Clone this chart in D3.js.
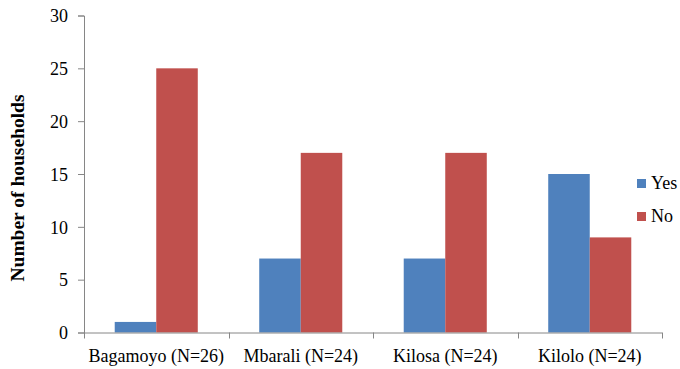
<!DOCTYPE html>
<html>
<head>
<meta charset="utf-8">
<script src="https://cdn.jsdelivr.net/npm/d3@7"></script>
<style>
  html, body { margin: 0; padding: 0; background: #fff; }
  svg { display: block; }
  svg text { font-family: "Times New Roman", Times, Tinos, "Liberation Serif", "Noto Serif", "DejaVu Serif", serif !important; }
</style>
</head>
<body>
<svg id="chart" width="680" height="369"></svg>
<script>
// Households answering Yes / No by district
const districts = ["Bagamoyo (N=26)", "Mbarali (N=24)", "Kilosa (N=24)", "Kilolo (N=24)"];
const seriesNames = ["Yes", "No"];
const yesValues = [1, 7, 7, 15];
const noValues = [25, 17, 17, 9];
const yTicks = [0, 5, 10, 15, 20, 25, 30];
const colors = ["#4F81BD", "#C0504D"];

const svg = d3.select("#chart");
const plotLeft = 84, plotRight = 662, plotTop = 15.5, plotBottom = 332.5;

const x = d3.scaleBand().domain(districts).range([plotLeft, plotRight]).paddingInner(0).paddingOuter(0);
const inner = d3.scaleBand().domain(seriesNames)
  .range([0, x.bandwidth()]).paddingInner(0).paddingOuter(0.74);
const y = d3.scaleLinear().domain([0, 30]).range([plotBottom, plotTop]);

const axisColor = "#868686";

// Bars
const rows = districts.map((d, i) => ({ district: d, values: [yesValues[i], noValues[i]] }));
const groups = svg.append("g").selectAll("g").data(rows).join("g")
  .attr("transform", d => `translate(${x(d.district)},0)`);
groups.selectAll("rect")
  .data(d => d.values.map((v, j) => ({ name: seriesNames[j], value: v, j })))
  .join("rect")
  .attr("x", d => inner(d.name))
  .attr("width", inner.bandwidth())
  .attr("y", d => y(d.value))
  .attr("height", d => y(0) - y(d.value))
  .attr("fill", d => colors[d.j]);

// Y axis
const yAxis = svg.append("g").attr("transform", `translate(${plotLeft},0)`)
  .call(d3.axisLeft(y).tickValues(yTicks).tickSize(6).tickPadding(10))
  .attr("font-size", 18);
yAxis.select(".domain").attr("stroke", axisColor);
yAxis.selectAll(".tick line").attr("stroke", axisColor);
yAxis.selectAll(".tick text").attr("fill", "#000").attr("dy", "0.35em");

// X axis (ticks at band boundaries)
const xAxisG = svg.append("g").attr("transform", `translate(0,${plotBottom})`);
xAxisG.append("line").attr("x1", plotLeft).attr("x2", plotRight)
  .attr("y1", 0.5).attr("y2", 0.5).attr("stroke", axisColor);
const bounds = districts.map(d => x(d)).concat([x(districts[districts.length - 1]) + x.bandwidth()]);
xAxisG.selectAll("line.tk").data(bounds).join("line").attr("class", "tk")
  .attr("x1", d => Math.round(d) + 0.5).attr("x2", d => Math.round(d) + 0.5)
  .attr("y1", 0).attr("y2", 6).attr("stroke", axisColor);
xAxisG.selectAll("text").data(districts).join("text")
  .attr("x", d => x(d) + x.bandwidth() / 2)
  .attr("y", 29)
  .attr("text-anchor", "middle")
  .attr("font-size", 18)
  .text(d => d);

// Y axis title
svg.append("text")
  .attr("transform", `translate(24,${(plotTop + plotBottom) / 2 + 14}) rotate(-90)`)
  .attr("text-anchor", "middle")
  .attr("font-size", 19.5)
  .attr("font-weight", "bold")
  .text("Number of households");

// Legend
const legend = svg.append("g")
  .selectAll("g").data(seriesNames).join("g")
  .attr("transform", (d, i) => `translate(637,${179 + i * 33})`);
legend.append("rect").attr("width", 9).attr("height", 9).attr("fill", (d, i) => colors[i]);
legend.append("text").attr("x", 14).attr("y", 10)
  .attr("font-size", 18).text(d => d);
</script>
</body>
</html>
